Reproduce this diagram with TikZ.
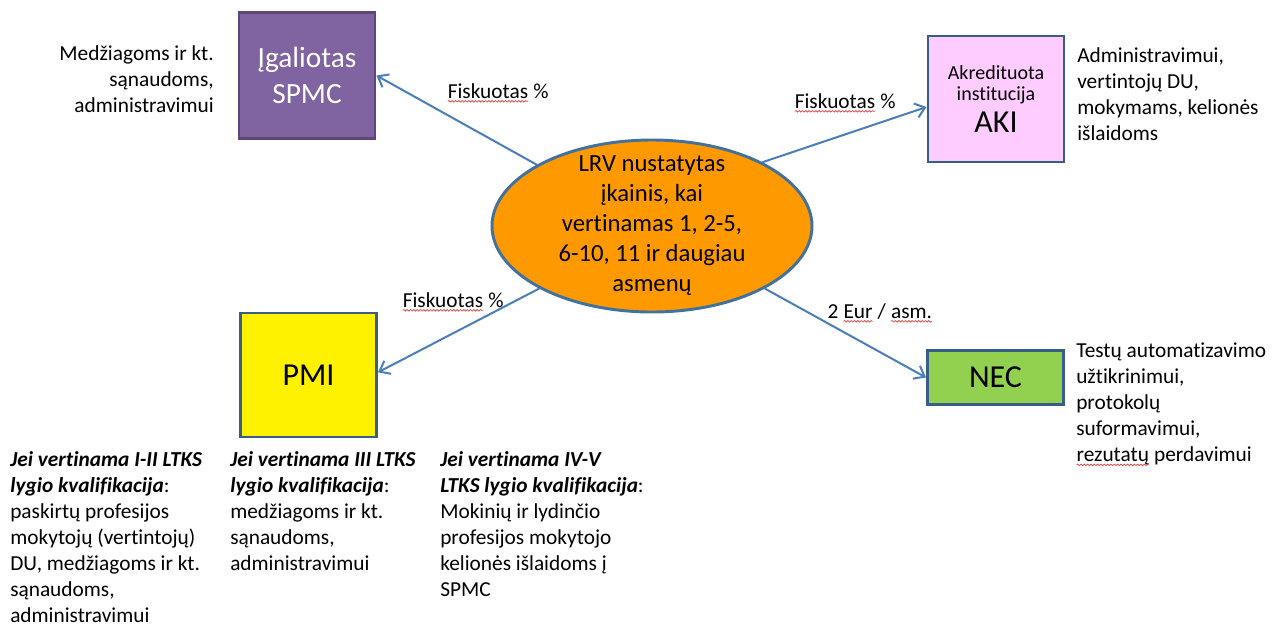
\documentclass[tikz,border=0pt]{standalone}
\usepackage{fontspec}
\setmainfont{Carlito}[Ligatures=NoCommon]
\usetikzlibrary{arrows.meta,shapes.geometric,decorations.pathmorphing}

\definecolor{lineblue}{HTML}{4A7EBB}
\definecolor{edgeblue}{HTML}{385D8A}
\definecolor{spmcfill}{HTML}{8064A2}
\definecolor{spmcedge}{HTML}{5C4776}
\definecolor{akifill}{HTML}{FFCCFF}
\definecolor{necfill}{HTML}{92D050}
\definecolor{lrvfill}{HTML}{FF9900}
\definecolor{lrvedge}{HTML}{41719C}
\definecolor{squigred}{HTML}{E03C3C}

\newcommand\fsz[2]{\fontsize{#1}{#2}\selectfont}
% wavy spell-check line under one word
\newcommand\squig[1]{\tikz[baseline=(sq.base)]{\node[inner sep=0pt,outer sep=0pt,anchor=base,draw=none,fill=none] (sq) {#1};
  \draw[squigred,line width=0.5pt,decorate,decoration={snake,amplitude=0.6pt,segment length=2.5pt}] ([yshift=-2.2pt]sq.base west) -- ([yshift=-2.2pt]sq.base east);}}

\tikzset{
  unit/.style={draw=edgeblue, line width=2.2pt, minimum width=102pt, inner sep=0pt, align=center},
  flow/.style={draw=lineblue, line width=1.5pt, -{Straight Barb[length=7pt,width=11pt]}},
  note/.style={inner sep=0pt, font=\fsz{16}{19.5}},
  tag/.style={inner sep=0pt, font=\fsz{16}{19.5}},
}

\begin{document}
\begin{tikzpicture}[x=0.75pt,y=-0.75pt]
  \useasboundingbox (0,0) rectangle (1286,629);
  \fill[white] (0,0) rectangle (1286,629);

  % boxes
  \node[unit, fill=spmcfill, draw=spmcedge, minimum height=95pt, text=white, font=\fsz{22}{27}] (spmc) at (307,75.5) {Įgaliotas\\SPMC};
  \node[unit, fill=akifill, minimum height=94.5pt, font=\fsz{15}{16}] (aki) at (996,99) {Akredituota\\institucija\\[5pt]\fsz{24}{28}AKI};
  \node[unit, fill=yellow, minimum height=93pt, font=\fsz{24}{28}] (pmi) at (308.5,375) {PMI};
  \node[unit, fill=necfill, minimum height=40pt, font=\fsz{24}{28}] (nec) at (995.5,377.5) {NEC};

  % centre
  \node[ellipse, draw=lrvedge, line width=2.2pt, fill=lrvfill, minimum width=240pt, minimum height=129pt, inner sep=0pt] (lrv) at (652,226) {};
  \node[inner sep=0pt, align=center, font=\fsz{18.5}{22.5}] (lrvtxt) at (lrv.center) {LRV nustatytas\\įkainis, kai\\vertinamas 1, 2-5,\\6-10, 11 ir daugiau\\asmenų};

  \draw[flow] (lrv.152) -- (spmc.east);
  \draw[flow] (lrv.30) -- ([yshift=-6pt]aki.west);
  \draw[flow] (lrv.209) -- ([yshift=2pt]pmi.east);
  \draw[flow] (lrv.331) -- (nec.west);

  \node[tag] (f1) at (498,93) {\squig{Fiskuotas} \%};
  \node[tag] (f2) at (845,103) {\squig{Fiskuotas} \%};
  \node[tag] (f3) at (453,302) {\squig{Fiskuotas} \%};
  \node[tag] (f4) at (880,313) {2 \squig{Eur} / \squig{asm.}};

  % side notes
  \node[note, align=right, anchor=north east] (spmcnote) at (214,45) {Medžiagoms ir kt.\\sąnaudoms,\\administravimui};
  \node[note, align=left, anchor=north west] (akinote) at (1077,47) {Administravimui,\\vertintojų DU,\\mokymams, kelionės\\išlaidoms};
  \node[note, align=left, anchor=north west] (necnote) at (1076,343) {Testų automatizavimo\\užtikrinimui,\\protokolų\\suformavimui,\\\squig{rezutatų} perdavimui};

  \node[note, align=left, anchor=north west] (lvl12) at (10,451) {\textbf{\textit{Jei vertinama I-II LTKS}}\\\textbf{\textit{lygio kvalifikacija}}:\\paskirtų profesijos\\mokytojų (vertintojų)\\DU, medžiagoms ir kt.\\sąnaudoms,\\administravimui};
  \node[note, align=left, anchor=north west] (lvl3) at (230,451) {\textbf{\textit{Jei vertinama III LTKS}}\\\textbf{\textit{lygio kvalifikacija}}:\\medžiagoms ir kt.\\sąnaudoms,\\administravimui};
  \node[note, align=left, anchor=north west] (lvl45) at (440,451) {\textbf{\textit{Jei vertinama IV-V}}\\\textbf{\textit{LTKS lygio kvalifikacija}}:\\Mokinių ir lydinčio\\profesijos mokytojo\\kelionės išlaidoms į\\SPMC};
\end{tikzpicture}
\end{document}
